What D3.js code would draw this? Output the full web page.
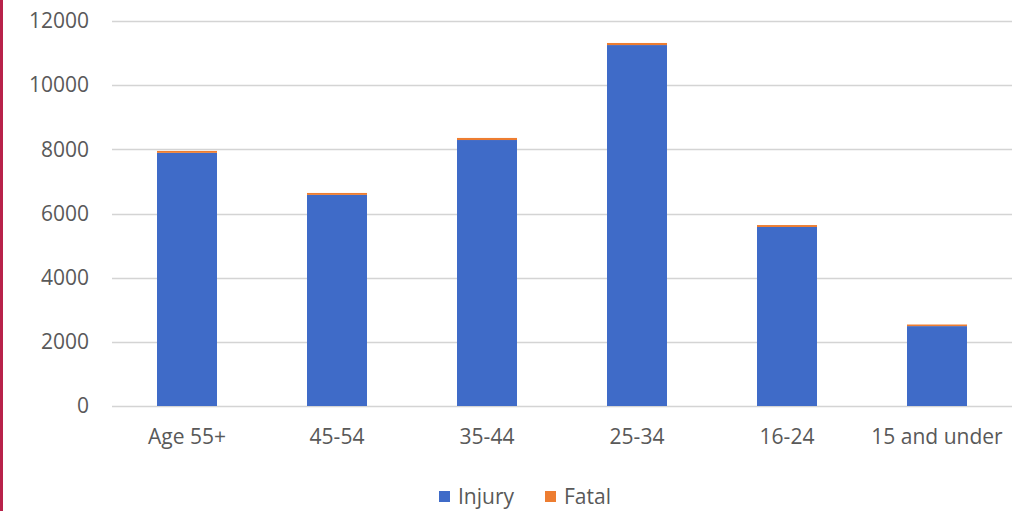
<!DOCTYPE html>
<html>
<head>
<meta charset="utf-8">
<script src="https://cdn.jsdelivr.net/npm/d3@7"></script>
<style>
  html, body { margin: 0; padding: 0; background: #ffffff; }
  svg { display: block; }
  text { font-family: "Open Sans", "DejaVu Sans", sans-serif; fill: #595959; }
</style>
</head>
<body>
<svg id="chart" width="1035" height="511"></svg>
<script>
// Age groups along the x axis
const categories = ["Age 55+", "45-54", "35-44", "25-34", "16-24", "15 and under"];
// Stacked series: injuries at the bottom, fatalities on top
const injury = [7890, 6580, 8290, 11250, 5580, 2490];
const fatal  = [60, 60, 65, 65, 60, 50];
const seriesNames = ["Injury", "Fatal"];
const seriesColors = ["#3f6bc8", "#ed7d31"];
const yTicks = [0, 2000, 4000, 6000, 8000, 10000, 12000];

const svg = d3.select("#chart");
const W = 1035, H = 511;
const plot = { left: 112, right: 1012, top: 21, bottom: 406 };

// Accent rule on the left edge
svg.append("rect").attr("x", 0).attr("y", 0).attr("width", 3).attr("height", H).attr("fill", "#b8224a");

const x = d3.scaleBand()
  .domain(categories)
  .range([plot.left, plot.right])
  .paddingInner(0.6)
  .paddingOuter(0.3);

const y = d3.scaleLinear()
  .domain([0, 12000])
  .range([plot.bottom, plot.top]);

// Horizontal gridlines
svg.append("g")
  .selectAll("line")
  .data(yTicks)
  .join("line")
  .attr("x1", plot.left)
  .attr("x2", plot.right)
  .attr("y1", d => Math.round(y(d)) + 0.5)
  .attr("y2", d => Math.round(y(d)) + 0.5)
  .attr("stroke", "#d4d4d4")
  .attr("stroke-width", 1.5);

// Y axis labels
const yAxis = d3.axisLeft(y).tickValues(yTicks).tickSize(0).tickPadding(0).tickFormat(d3.format("d"));
const yg = svg.append("g").attr("transform", `translate(89,0)`).call(yAxis);
yg.select(".domain").remove();
yg.selectAll("text")
  .attr("font-size", 21)
  .attr("fill", "#595959")
  .style("font-family", "'Open Sans', sans-serif");

// Stack the two series
const rows = categories.map((c, i) => ({ cat: c, Injury: injury[i], Fatal: fatal[i] }));
const stacked = d3.stack().keys(seriesNames)(rows);

svg.append("g")
  .selectAll("g")
  .data(stacked)
  .join("g")
  .attr("fill", (d, i) => seriesColors[i])
  .selectAll("rect")
  .data(d => d)
  .join("rect")
  .attr("x", d => x(d.data.cat))
  .attr("width", x.bandwidth())
  .attr("y", d => y(d[1]))
  .attr("height", d => y(d[0]) - y(d[1]));

// X axis labels
const xAxis = d3.axisBottom(x).tickSize(0).tickPadding(0);
const xg = svg.append("g").attr("transform", `translate(0,${plot.bottom + 23})`).call(xAxis);
xg.select(".domain").remove();
xg.selectAll("text")
  .attr("font-size", 21)
  .attr("fill", "#595959")
  .style("font-family", "'Open Sans', sans-serif");

// Legend
const legend = svg.append("g").attr("transform", "translate(0,497)");
const legendItems = [
  { name: seriesNames[0], color: seriesColors[0], x: 439 },
  { name: seriesNames[1], color: seriesColors[1], x: 545 }
];
legendItems.forEach(item => {
  legend.append("rect")
    .attr("x", item.x).attr("y", -6)
    .attr("width", 11).attr("height", 11)
    .attr("fill", item.color);
  legend.append("text")
    .attr("x", item.x + 19).attr("y", 0)
    .attr("dy", "0.35em")
    .attr("font-size", 21)
    .text(item.name);
});
</script>
</body>
</html>
